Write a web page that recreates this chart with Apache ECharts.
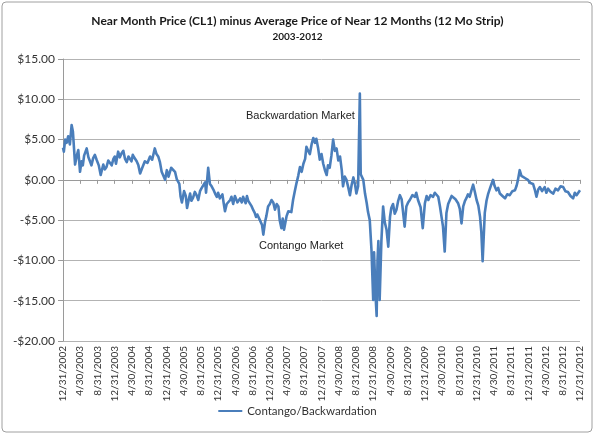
<!DOCTYPE html>
<html>
<head>
<meta charset="utf-8">
<script src="https://cdn.jsdelivr.net/npm/echarts@6/dist/echarts.min.js"></script>
<style>html,body{margin:0;padding:0;background:#fff}#c{width:595px;height:436px}</style>
</head>
<body>
<div id="c"></div>
<script>
// x tick labels, every 4 months starting 12/31/2002
const tickLabels = ['12/31/2002','4/30/2003','8/31/2003','12/31/2003','4/30/2004','8/31/2004','12/31/2004','4/30/2005','8/31/2005','12/31/2005','4/30/2006','8/31/2006','12/31/2006','4/30/2007','8/31/2007','12/31/2007','4/30/2008','8/31/2008','12/31/2008','4/30/2009','8/31/2009','12/31/2009','4/30/2010','8/31/2010','12/31/2010','4/30/2011','8/31/2011','12/31/2011','4/30/2012','8/31/2012','12/31/2012'];
// months elapsed since 12/31/2002
const months = [
  0,0.2,0.5,0.85,1.2,1.6,2.0,2.3,2.55,2.8,
  3.2,3.55,3.95,4.3,4.6,4.9,5.2,5.5,5.9,6.26,
  6.6,7.0,7.4,7.8,8.3,8.75,9.35,9.7,10.1,10.5,
  10.9,11.3,11.7,12.0,12.3,12.8,13.2,13.6,14.0,14.4,
  14.8,15.2,15.9,16.2,16.5,17.1,17.5,17.9,18.4,19.0,
  19.6,20.2,20.7,21.3,21.7,22.1,22.5,22.9,23.3,23.7,
  24.1,24.5,24.8,25.1,25.4,26.0,26.4,27.0,27.3,27.6,
  28.1,28.5,28.8,29.2,29.5,29.8,30.2,30.6,31.0,31.4,
  31.8,32.2,32.6,33.0,33.2,33.7,34.1,34.5,34.9,35.3,
  35.7,36.0,36.4,37.0,37.3,37.6,38.0,38.4,38.8,39.1,
  39.5,39.9,40.2,40.5,41.1,41.5,41.8,42.4,42.7,43.0,
  43.4,43.8,44.2,44.5,44.8,45.1,45.7,46.2,46.5,46.9,
  47.2,47.6,48.0,48.4,48.8,49.2,49.6,50.0,50.3,50.7,
  51.0,51.3,51.9,52.3,52.7,53.0,53.4,53.8,54.2,54.6,
  55.0,55.4,55.8,56.2,56.5,57.0,57.3,57.7,58.1,58.5,
  58.8,59.2,59.6,60.0,60.4,60.8,61.2,61.5,61.9,62.3,
  62.7,63.1,63.5,63.9,64.3,64.7,65.0,65.4,65.8,66.2,
  66.6,67.0,67.4,67.8,68.1,68.5,68.8,68.9,69.1,69.4,
  69.7,70.1,70.5,70.8,71.2,71.6,72.0,72.2,72.4,72.6,
  72.8,73.0,73.2,73.5,73.9,74.3,74.7,75.1,75.5,75.9,
  76.2,76.6,77.0,77.4,77.8,78.2,78.6,79.0,79.3,79.7,
  80.1,80.5,81.1,81.7,82.0,82.4,83.0,83.5,84.0,84.4,
  84.8,85.3,85.9,86.3,86.7,87.1,87.5,88.2,88.6,89.0,
  89.4,89.8,90.2,90.6,91.1,91.7,92.1,92.5,92.9,93.3,
  93.6,94.0,94.4,94.8,95.2,95.6,96.0,96.4,96.8,97.1,
  97.4,97.9,98.3,98.7,99.2,99.8,100.2,100.6,101.0,101.4,
  102.0,102.6,103.1,103.7,104.3,104.9,105.3,105.6,106.0,106.4,
  106.8,107.3,107.9,108.5,109.1,109.5,109.9,110.3,110.7,111.2,
  111.8,112.2,112.6,113.2,113.8,114.3,114.9,115.5,116.1,116.6,
  117.2,117.8,118.4,118.8,119.2,119.6,120
];
// near month minus 12-month strip, $/bbl
const spread = [
  4.0,3.5,5.0,4.6,5.4,4.4,6.8,6.0,5.8,1.9,
  3.0,3.7,1.0,2.3,1.8,3.0,3.2,3.9,2.8,2.3,
  1.8,2.7,3.1,2.5,1.8,0.6,1.9,1.3,1.6,2.4,
  2.3,1.8,2.6,2.9,2.0,3.5,2.8,3.3,3.6,2.6,
  2.2,2.9,2.3,3.1,2.8,2.3,1.8,0.8,1.5,2.3,
  2.1,2.9,2.5,3.9,3.2,2.9,2.2,1.0,1.2,0.0,
  1.2,0.4,0.6,1.5,1.4,1.0,0.1,-0.5,-2.1,-2.8,
  -1.4,-2.0,-3.5,-2.4,-1.7,-2.6,-2.2,-1.5,-1.9,-2.5,
  -1.4,-1.0,-0.8,-0.3,-1.6,1.5,-0.5,-0.8,-1.2,-1.7,
  -2.1,-1.6,-2.3,-1.8,-2.9,-3.9,-3.0,-2.9,-2.5,-2.1,
  -3.0,-2.0,-1.8,-2.8,-2.3,-2.8,-2.1,-2.9,-2.0,-2.6,
  -2.4,-3.3,-3.8,-4.1,-4.6,-4.3,-5.0,-5.6,-6.8,-5.2,
  -4.5,-3.3,-3.0,-2.5,-2.8,-3.7,-3.0,-3.3,-5.0,-6.0,
  -4.8,-6.2,-4.5,-3.9,-3.7,-4.0,-2.5,-1.4,-0.4,0.5,
  1.6,1.0,2.0,2.6,4.1,3.5,3.2,4.4,5.2,4.6,
  5.1,4.0,2.5,3.2,2.0,1.2,0.6,1.8,1.5,3.0,
  5.0,3.6,3.9,2.4,2.9,1.2,-0.8,0.4,0.0,-0.9,
  -1.9,-0.6,0.3,-0.6,-1.7,-0.8,-1.0,10.7,0.7,0.5,
  0.0,-1.7,-2.9,-4.0,-5.0,-8.7,-14.9,-9.0,-9.1,-14.9,
  -16.9,-10.0,-7.6,-14.9,-7.6,-3.3,-5.3,-6.2,-8.3,-4.6,
  -3.5,-3.0,-4.2,-3.7,-2.6,-1.9,-2.4,-2.6,-5.8,-3.3,
  -2.8,-2.5,-1.9,-2.1,-1.6,-2.5,-3.4,-6.0,-2.9,-2.0,
  -2.5,-1.9,-2.1,-1.6,-1.4,-2.1,-3.3,-5.8,-8.9,-4.1,
  -3.0,-2.5,-2.0,-2.1,-2.4,-2.9,-3.6,-5.4,-3.3,-2.6,
  -2.3,-1.8,-2.1,-1.3,-0.6,-1.5,-2.5,-3.2,-4.6,-6.5,
  -10.1,-4.1,-2.6,-1.7,-0.9,0.0,-0.8,-1.3,-1.0,-1.7,
  -2.0,-2.3,-1.8,-1.9,-1.4,-1.3,-0.7,0.0,1.2,0.5,
  0.6,0.2,0.0,-0.4,-0.5,-1.2,-2.1,-1.2,-0.9,-1.4,
  -0.9,-1.6,-1.1,-1.5,-1.7,-1.1,-1.3,-0.8,-0.9,-1.4,
  -1.5,-2.0,-2.3,-1.6,-1.9,-1.6,-1.3
];

const points = months.map((m, i) => [m, spread[i]]);
const money = v => (v < 0 ? '-$' : '$') + Math.abs(v).toFixed(2);

const chart = echarts.init(document.getElementById('c'), null, {renderer: 'canvas'});
chart.setOption({
  animation: false,
  backgroundColor: '#fff',
  title: {
    text: 'Near Month Price (CL1) minus Average Price of Near 12 Months (12 Mo Strip)',
    subtext: '2003-2012',
    left: 'center', top: 10, itemGap: 5,
    textStyle: {fontFamily: 'Lato', fontWeight: 'bold', fontSize: 12, color: '#1a1a1a'},
    subtextStyle: {fontFamily: 'Lato', fontWeight: 'bold', fontSize: 10, color: '#1a1a1a'}
  },
  legend: {
    bottom: 14, left: 'center',
    icon: 'rect', itemWidth: 24, itemHeight: 2, itemGap: 3,
    textStyle: {fontFamily: 'Lato', fontSize: 11.5, color: '#333'},
    data: ['Contango/Backwardation']
  },
  grid: {left: 63, right: 15, top: 59, bottom: 95},
  xAxis: [{
    type: 'value', min: 0, max: 120, interval: 4,
    axisLine: {show: false, onZero: false}, axisTick: {show: false}, splitLine: {show: false},
    axisLabel: {rotate: 90, fontFamily: 'Lato', fontSize: 10, color: '#333', margin: 5,
      formatter: v => tickLabels[Math.round(v / 4)] || ''}
  }, {
    type: 'value', min: 0, max: 120, interval: 4, position: 'bottom',
    axisLine: {show: true, onZero: true, lineStyle: {color: '#9a9a9a', width: 1}},
    axisTick: {show: true, length: 4, inside: false, lineStyle: {color: '#9a9a9a'}},
    axisLabel: {show: false}, splitLine: {show: false}
  }],
  yAxis: {
    type: 'value', min: -20, max: 15, interval: 5,
    axisLine: {show: true, lineStyle: {color: '#9a9a9a'}},
    axisTick: {show: true, length: 5, lineStyle: {color: '#9a9a9a'}},
    splitLine: {lineStyle: {color: '#b3b3b3', width: 1}},
    axisLabel: {fontFamily: 'Lato', fontSize: 12, color: '#333', margin: 8, formatter: money}
  },
  series: [{
    name: 'Contango/Backwardation', type: 'line', xAxisIndex: 0,
    data: points, showSymbol: false, symbol: 'none',
    lineStyle: {color: '#4a7ebb', width: 2.6, join: 'round'}, itemStyle: {color: '#4a7ebb'}
  }],
  graphic: [
    {type: 'rect', shape: {x: 2, y: 2, width: 590, height: 430, r: 4}, style: {fill: 'none', stroke: '#a0a0a0', lineWidth: 1}, z: -1},
    {type: 'text', left: 246, top: 110, style: {text: 'Backwardation Market', font: '11px "Liberation Sans"', fill: '#222'}},
    {type: 'text', left: 259, top: 240, style: {text: 'Contango Market', font: '11px "Liberation Sans"', fill: '#222'}}
  ]
});
</script>
</body>
</html>
